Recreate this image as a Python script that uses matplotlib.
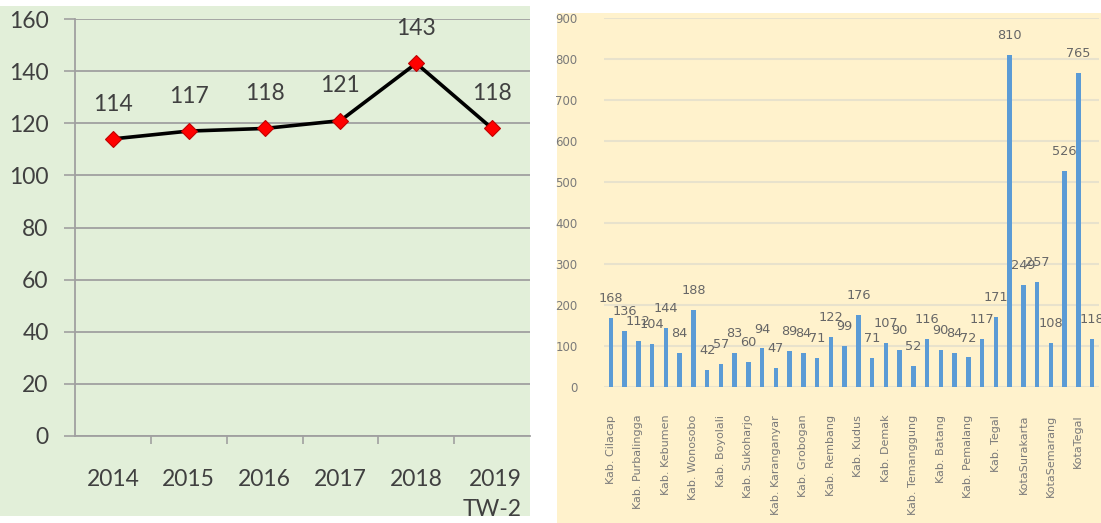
import matplotlib
matplotlib.use("Agg")
import matplotlib.pyplot as plt
from matplotlib.patches import Rectangle
from matplotlib.ticker import FixedLocator

# ---------------- data ----------------
years = ["2014", "2015", "2016", "2017", "2018", "2019\nTW-2"]
year_values = [114, 117, 118, 121, 143, 118]

regions = [
    "Kab. Cilacap", "Kab. Banyumas", "Kab. Purbalingga", "Kab. Banjarnegara",
    "Kab. Kebumen", "Kab. Purworejo", "Kab. Wonosobo", "Kab. Magelang",
    "Kab. Boyolali", "Kab. Klaten", "Kab. Sukoharjo", "Kab. Wonogiri",
    "Kab. Karanganyar", "Kab. Sragen", "Kab. Grobogan", "Kab. Blora",
    "Kab. Rembang", "Kab. Pati", "Kab. Kudus", "Kab. Jepara",
    "Kab. Demak", "Kab. Semarang", "Kab. Temanggung", "Kab. Kendal",
    "Kab. Batang", "Kab. Pekalongan", "Kab. Pemalang", "Kab. Brebes",
    "Kab. Tegal", "Kota Magelang", "KotaSurakarta", "Kota Salatiga",
    "KotaSemarang", "Kota Pekalongan", "KotaTegal", "Jawa Tengah",
]
region_values = [168, 136, 112, 104, 144, 84, 188, 42, 57, 83, 60, 94,
                 47, 89, 84, 71, 122, 99, 176, 71, 107, 90, 52, 116,
                 90, 84, 72, 117, 171, 810, 249, 257, 108, 526, 765, 118]

W, H = 1101, 523
fig = plt.figure(figsize=(W / 100, H / 100), dpi=100)

def fx(px):
    return px / W

def fy(py):
    return 1 - py / H

# panel backgrounds
fig.patches.append(Rectangle((fx(0), fy(516)), fx(530), (516 - 6) / H,
                             transform=fig.transFigure, facecolor="#e2efd9",
                             edgecolor="none", zorder=-10))
fig.patches.append(Rectangle((fx(557), fy(523)), fx(1101 - 557), (523 - 13) / H,
                             transform=fig.transFigure, facecolor="#fff2cc",
                             edgecolor="none", zorder=-10))

# ---------------- left line chart ----------------
axL = fig.add_axes([fx(75), fy(436), fx(530 - 75), (436 - 19) / H])
axL.set_facecolor("none")
x = list(range(len(years)))
axL.plot(x, year_values, color="black", lw=2.6, zorder=3)
axL.plot(x, year_values, ls="none", marker="D", ms=8, mfc="#ff0000",
         mec="#c00000", mew=0.8, zorder=4)
for xi, v in zip(x, year_values):
    axL.annotate(str(v), (xi, v), xytext=(0, 25), textcoords="offset points",
                 ha="center", va="center", fontsize=16.5, color="#404040",
                 family="Lato")
axL.set_xlim(-0.5, 5.5)
axL.set_ylim(0, 160)
axL.set_yticks(range(0, 161, 20))
axL.set_xticks(x)
axL.set_xticklabels(years, fontsize=16.5, color="#404040", family="Lato",
                    multialignment="right", linespacing=1.5)
axL.xaxis.set_minor_locator(FixedLocator([i + 0.5 for i in range(5)]))
axL.tick_params(axis="x", which="major", length=0, pad=24)
axL.tick_params(axis="x", which="minor", length=6, color="#a0a0a0", width=1.2)
axL.tick_params(axis="y", length=8, color="#a0a0a0", width=1.2, pad=11,
                labelsize=16.5, labelcolor="#404040")
for lab in axL.get_yticklabels():
    lab.set_family("Lato")
axL.grid(axis="y", color="#a0a0a0", lw=1.3)
axL.set_axisbelow(True)
for s in ["top", "right"]:
    axL.spines[s].set_visible(False)
axL.spines["left"].set_color("#a0a0a0")
axL.spines["left"].set_linewidth(1.3)
axL.spines["bottom"].set_color("#a0a0a0")
axL.spines["bottom"].set_linewidth(1.3)

# ---------------- right bar chart ----------------
axR = fig.add_axes([fx(604), fy(387), fx(1099 - 604), (387 - 18) / H])
axR.set_facecolor("none")
xr = list(range(len(regions)))
axR.bar(xr, region_values, width=0.32, color="#5b9bd5", zorder=3)
for xi, v in zip(xr, region_values):
    axR.annotate(str(v), (xi, v), xytext=(0, 14), textcoords="offset points",
                 ha="center", va="center", fontsize=9.3, color="#666666")
axR.set_xlim(-0.5, len(regions) - 0.5)
axR.set_ylim(0, 900)
axR.set_yticks(range(0, 901, 100))
axR.tick_params(axis="y", length=0, pad=19, labelsize=8.5, labelcolor="#7a7a7a")
axR.set_xticks(xr[::2])
axR.set_xticklabels(regions[::2], rotation=90, fontsize=8, color="#7a7a7a")
axR.tick_params(axis="x", length=0, pad=20)
axR.grid(axis="y", color="#e8e2cc", lw=1.5)
axR.set_axisbelow(True)
for s in axR.spines.values():
    s.set_visible(False)

fig.savefig("out.png", dpi=100)
